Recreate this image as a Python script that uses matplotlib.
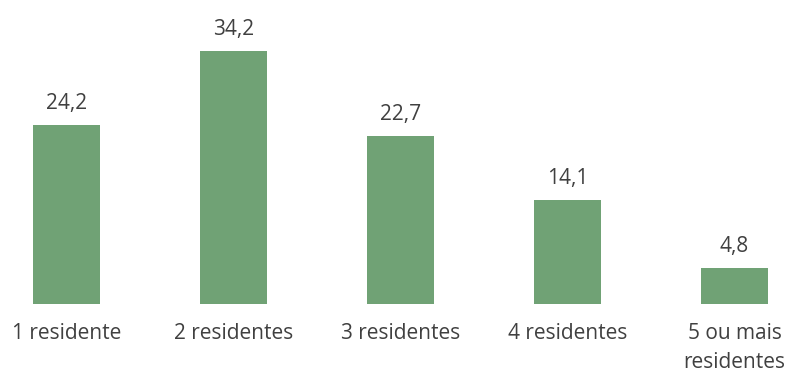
import matplotlib.pyplot as plt

categorias = ["1 residente", "2 residentes", "3 residentes", "4 residentes", "5 ou mais\nresidentes"]
valores = [24.2, 34.2, 22.7, 14.1, 4.8]

plt.rcParams['font.family'] = ['Open Sans', 'DejaVu Sans']

fig = plt.figure(figsize=(7.92, 3.74), dpi=100)
ax = fig.add_axes([0, 70 / 374, 1, 304 / 374])

x = range(len(valores))
barras = ax.bar(x, valores, width=0.4, color="#70a275")

for b, v in zip(barras, valores):
    ax.annotate(f"{v:.1f}".replace(".", ","), (b.get_x() + b.get_width() / 2, v),
                xytext=(0, 8), textcoords="offset points", ha="center", va="bottom",
                fontsize=15, color="#404040")

ax.set_xlim(-0.398, 4.344)
ax.set_ylim(0, 304 / 7.4)
ax.set_xticks(list(x))
ax.set_xticklabels(categorias, fontsize=15, color="#404040", linespacing=1.5)
ax.tick_params(axis="x", length=0, pad=14)
ax.set_yticks([])
for s in ax.spines.values():
    s.set_visible(False)

fig.savefig("out.png", dpi=100)
